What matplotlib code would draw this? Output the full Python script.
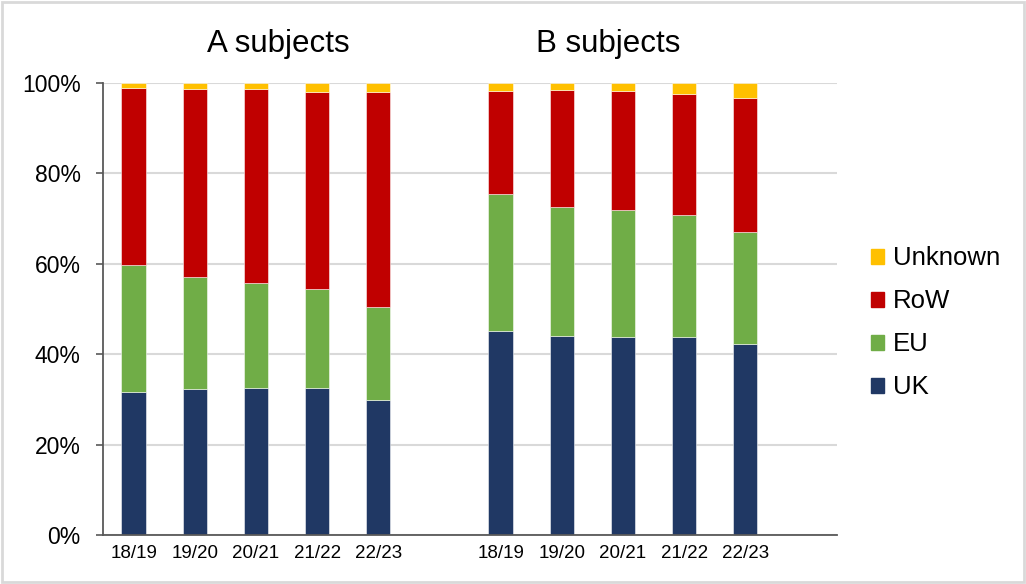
import matplotlib.pyplot as plt
from matplotlib.patches import Rectangle, Patch
from matplotlib.transforms import blended_transform_factory
from matplotlib.ticker import FuncFormatter

plt.rcParams['font.family'] = ['Liberation Sans', 'DejaVu Sans']

years = ["18/19", "19/20", "20/21", "21/22", "22/23"]
groups = ["A subjects", "B subjects"]
series = ["UK", "EU", "RoW", "Unknown"]
colors = ["#203864", "#70AD47", "#C00000", "#FFC000"]

# percentage shares per year
a_uk = [31.6, 32.3, 32.5, 32.5, 29.9]
a_eu = [28.1, 24.8, 23.2, 22.0, 20.5]
a_row = [39.2, 41.6, 43.0, 43.6, 47.5]
a_unknown = [1.1, 1.3, 1.3, 1.9, 2.1]

b_uk = [45.1, 44.1, 43.7, 43.9, 42.3]
b_eu = [30.3, 28.5, 28.3, 27.0, 24.7]
b_row = [22.9, 25.9, 26.3, 26.7, 29.6]
b_unknown = [1.7, 1.5, 1.7, 2.4, 3.4]

fig = plt.figure(figsize=(10.26, 5.84), dpi=100)
ax = fig.add_axes([103/1026, 1-535/584, (837-103)/1026, (535-83)/584])

# A bars in slots 0-4, B bars in slots 6-10, empty slot between and after
xa = list(range(5))
xb = [i + 6 for i in range(5)]

for xs, data in [(xa, [a_uk, a_eu, a_row, a_unknown]),
                 (xb, [b_uk, b_eu, b_row, b_unknown])]:
    bottom = [0] * 5
    for vals, c in zip(data, colors):
        ax.bar(xs, vals, bottom=bottom, width=0.4, color=c,
               edgecolor=(1, 1, 1, 0.6), linewidth=0.6, zorder=3)
        bottom = [b + v for b, v in zip(bottom, vals)]

ax.set_xlim(-0.5, 11.5)
ax.set_ylim(0, 100)
ax.set_yticks(range(0, 101, 20))
ax.yaxis.set_major_formatter(FuncFormatter(lambda v, p: f"{v:.0f}%"))
ax.set_xticks(xa + xb)
ax.set_xticklabels(years + years, fontsize=13.5)
ax.tick_params(axis='x', length=0, pad=7)
ax.tick_params(axis='y', labelsize=16.5, length=5, width=1.2,
               color='#595959', pad=11)
ax.grid(axis='y', color='#D9D9D9', linewidth=1.5, zorder=0)

for s in ['top', 'right']:
    ax.spines[s].set_visible(False)
for s in ['left', 'bottom']:
    ax.spines[s].set_color('#595959')
    ax.spines[s].set_linewidth(1.3)
    ax.spines[s].set_zorder(4)

trans = blended_transform_factory(ax.transData, ax.transAxes)
ax.text(2.36, 1.087, groups[0], transform=trans, ha='center', va='center', fontsize=22.5)
ax.text(7.76, 1.087, groups[1], transform=trans, ha='center', va='center', fontsize=22.5)

handles = [Patch(color=c, label=s) for s, c in zip(series, colors)][::-1]
fig.legend(handles=handles, loc='center left', bbox_to_anchor=(0.849, 0.447),
           frameon=False, fontsize=18.5, handlelength=0.5, handleheight=0.5,
           handletextpad=0.35, labelspacing=0.74, borderpad=0, borderaxespad=0)

# thin grey frame around the whole figure
fig.patches.append(Rectangle((0.002, 0.003), 0.996, 0.994, transform=fig.transFigure,
                             fill=False, edgecolor='#D9D9D9', linewidth=2))

fig.savefig("out.png", dpi=100)
